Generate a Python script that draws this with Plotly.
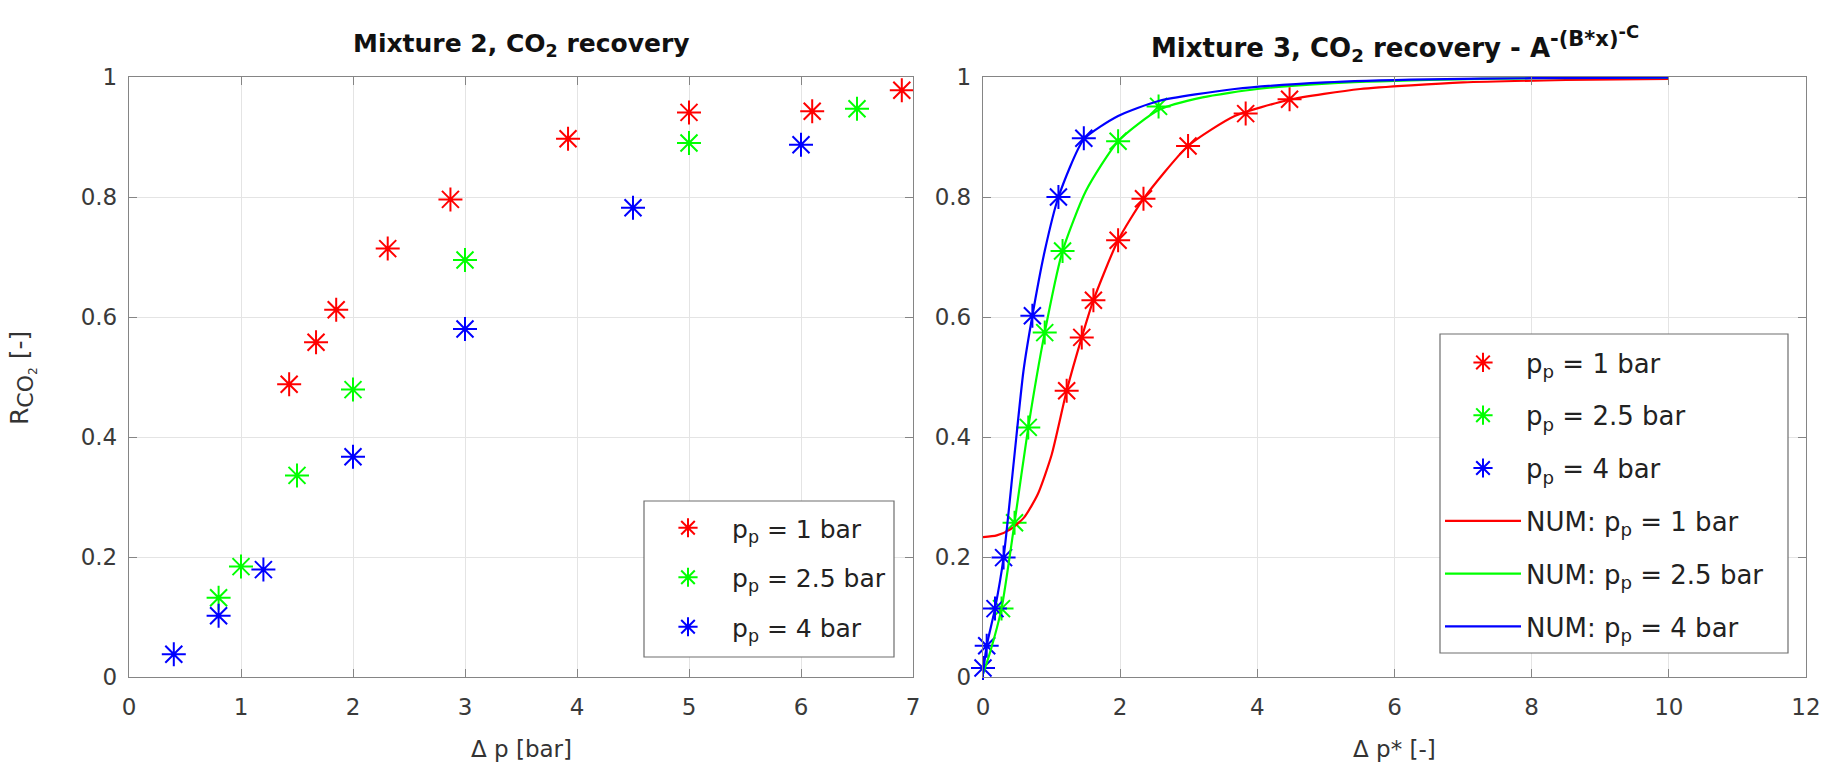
import plotly.graph_objects as go

# ---- Mixture 2: measured CO2 recovery vs pressure difference ----
m2_p1_dp = [1.43, 1.67, 1.85, 2.31, 2.87, 3.92, 5.0, 6.1, 6.9]
m2_p1_r = [0.488, 0.558, 0.612, 0.714, 0.796, 0.897, 0.941, 0.943, 0.978]
m2_p25_dp = [0.8, 1.0, 1.5, 2.0, 3.0, 5.0, 6.5]
m2_p25_r = [0.132, 0.184, 0.336, 0.479, 0.695, 0.89, 0.947]
m2_p4_dp = [0.4, 0.8, 1.2, 2.0, 3.0, 4.5, 6.0]
m2_p4_r = [0.038, 0.102, 0.179, 0.367, 0.580, 0.782, 0.887]

# ---- Mixture 3: measured recovery vs normalised pressure difference ----
m3_p1_dp = [1.22, 1.44, 1.61, 1.97, 2.34, 2.99, 3.83, 4.47]
m3_p1_r = [0.477, 0.566, 0.628, 0.728, 0.797, 0.885, 0.939, 0.963]
m3_p25_dp = [0.27, 0.46, 0.66, 0.90, 1.16, 1.97, 2.56]
m3_p25_r = [0.114, 0.257, 0.416, 0.574, 0.71, 0.893, 0.951]
m3_p4_dp = [0.0, 0.054, 0.175, 0.30, 0.72, 1.10, 1.47]
m3_p4_r = [0.015, 0.052, 0.114, 0.199, 0.602, 0.80, 0.898]

# ---- Mixture 3: numerical (NUM) curves ----
num_p1_dp = [0, 0.2, 0.4, 0.6, 0.8, 1.0, 1.22, 1.44, 1.61, 1.97, 2.34, 2.99,
             3.67, 4.47, 5.5, 7.0, 8.5, 10.0]
num_p1_r = [0.233, 0.236, 0.246, 0.266, 0.305, 0.37, 0.477, 0.566, 0.628, 0.728,
            0.797, 0.885, 0.935, 0.962, 0.980, 0.991, 0.995, 0.997]
num_p25_dp = [0, 0.1, 0.27, 0.46, 0.66, 0.90, 1.16, 1.5, 1.97, 2.56, 3.2, 4.0,
              5.0, 6.5, 8.0, 10.0]
num_p25_r = [0.005, 0.04, 0.114, 0.257, 0.416, 0.574, 0.71, 0.81, 0.893, 0.945,
             0.966, 0.980, 0.989, 0.995, 0.998, 0.999]
num_p4_dp = [0, 0.054, 0.175, 0.30, 0.45, 0.59, 0.72, 0.9, 1.10, 1.47, 1.97,
             2.56, 3.67, 5.0, 6.5, 8.0, 10.0]
num_p4_r = [0.005, 0.052, 0.114, 0.199, 0.36, 0.51, 0.602, 0.71, 0.80, 0.896,
            0.935, 0.960, 0.980, 0.991, 0.996, 0.998, 0.999]

labels = ["p<sub>p</sub> = 1 bar", "p<sub>p</sub> = 2.5 bar", "p<sub>p</sub> = 4 bar"]
colors = ["#ff0000", "#00ff00", "#0000ff"]

FONT = "DejaVu Sans"
W, H = 1836, 768

fig = go.Figure()


def star_trace(x, y, name, color, xa, ya, legend):
    return go.Scatter(
        x=x, y=y, mode="markers", name=name, xaxis=xa, yaxis=ya,
        legend=legend, legendgroup=legend + name, cliponaxis=False,
        marker=dict(symbol="asterisk-open", size=20, color=color,
                    line=dict(color=color, width=2)),
    )


left_sets = [(m2_p1_dp, m2_p1_r), (m2_p25_dp, m2_p25_r), (m2_p4_dp, m2_p4_r)]
for (x, y), lab, col in zip(left_sets, labels, colors):
    fig.add_trace(star_trace(x, y, lab, col, "x", "y", "legend"))

right_sets = [(m3_p1_dp, m3_p1_r), (m3_p25_dp, m3_p25_r), (m3_p4_dp, m3_p4_r)]
for (x, y), lab, col in zip(right_sets, labels, colors):
    fig.add_trace(star_trace(x, y, lab, col, "x2", "y2", "legend2"))

num_sets = [(num_p1_dp, num_p1_r), (num_p25_dp, num_p25_r), (num_p4_dp, num_p4_r)]
for (x, y), lab, col in zip(num_sets, labels, colors):
    fig.add_trace(go.Scatter(
        x=x, y=y, mode="lines", name="NUM: " + lab, xaxis="x2", yaxis="y2",
        legend="legend2", legendgroup="num" + lab, cliponaxis=False,
        line=dict(color=col, width=2.2, shape="spline", smoothing=0.6),
    ))

# axes geometry in pixels
L_X0, L_X1 = 129, 913
R_X0, R_X1 = 983, 1806
Y_TOP, Y_BOT = 77, 677

axis_common = dict(
    showline=True, linecolor="#858585", linewidth=1.3, mirror="ticks",
    ticks="inside", ticklen=8, tickcolor="#858585", tickwidth=1,
    showgrid=True, gridcolor="#e4e4e4", gridwidth=1, zeroline=False,
    automargin=False,
    tickfont=dict(family=FONT, size=23, color="#3a3a3a"),
)


def px_x(v):
    return v / W


def px_y(v):
    return 1 - v / H


fig.update_layout(
    width=W, height=H,
    margin=dict(l=0, r=0, t=0, b=0, autoexpand=False),
    paper_bgcolor="white", plot_bgcolor="white",
    font=dict(family=FONT, size=23, color="#333333"),
    xaxis=dict(domain=[px_x(L_X0), px_x(L_X1)], range=[0, 7], dtick=1,
               anchor="y", ticklabelstandoff=9, **axis_common),
    yaxis=dict(domain=[px_y(Y_BOT), px_y(Y_TOP)], range=[0, 1], dtick=0.2,
               anchor="x", ticklabelstandoff=6, **axis_common),
    xaxis2=dict(domain=[px_x(R_X0), px_x(R_X1)], range=[0, 12], dtick=2,
                anchor="y2", ticklabelstandoff=9, **axis_common),
    yaxis2=dict(domain=[px_y(Y_BOT), px_y(Y_TOP)], range=[0, 1], dtick=0.2,
                anchor="x2", ticklabelstandoff=6, **axis_common),
    legend=dict(x=px_x(644), y=px_y(505), xanchor="left", yanchor="top",
                bgcolor="rgba(0,0,0,0)", borderwidth=0,
                font=dict(family=FONT, size=25, color="#222222"),
                tracegroupgap=14, itemwidth=78),
    legend2=dict(x=px_x(1440), y=px_y(339), xanchor="left", yanchor="top",
                 bgcolor="rgba(0,0,0,0)", borderwidth=0,
                 font=dict(family=FONT, size=26, color="#222222"),
                 tracegroupgap=16, itemwidth=76),
    showlegend=True,
)

# legend frames
for x0, y0, x1, y1 in [(644, 501, 894, 657), (1440, 334, 1788, 653)]:
    fig.add_shape(type="rect", xref="paper", yref="paper",
                  x0=px_x(x0), x1=px_x(x1), y0=px_y(y1), y1=px_y(y0),
                  fillcolor="white", line=dict(color="#6e6e6e", width=1.2),
                  layer="above")

ann_font = dict(family=FONT, size=23, color="#333333")
fig.add_annotation(text="<b>Mixture 2, CO<sub>2</sub> recovery</b>",
                   x=px_x((L_X0 + L_X1) / 2), y=px_y(45), xref="paper", yref="paper",
                   showarrow=False, font=dict(family=FONT, size=25, color="#111111"),
                   xanchor="center", yanchor="middle")
fig.add_annotation(
    text=("<b>Mixture 3, CO<sub>2</sub> recovery - A<sup>"
          "<span style='font-size:21px'>-(B*x)</span>"
          "<sup><span style='font-size:18px'>-C</span></sup></sup></b>"),
    x=px_x((R_X0 + R_X1) / 2), y=px_y(44), xref="paper", yref="paper",
    showarrow=False, font=dict(family=FONT, size=26, color="#111111"),
    xanchor="center", yanchor="middle")
fig.add_annotation(text="Δ p [bar]", x=px_x((L_X0 + L_X1) / 2), y=px_y(749),
                   xref="paper", yref="paper", showarrow=False, font=ann_font,
                   xanchor="center", yanchor="middle")
fig.add_annotation(text="Δ p* [-]", x=px_x((R_X0 + R_X1) / 2), y=px_y(749),
                   xref="paper", yref="paper", showarrow=False, font=ann_font,
                   xanchor="center", yanchor="middle")
fig.add_annotation(
    text="R<sub><span style='font-size:22px'>CO</span><sub>2</sub></sub> [-]",
    x=px_x(22), y=px_y(378), xref="paper", yref="paper", showarrow=False,
    font=dict(family=FONT, size=25, color="#333333"),
    textangle=-90, xanchor="center", yanchor="middle")

fig.write_html("out.html")
